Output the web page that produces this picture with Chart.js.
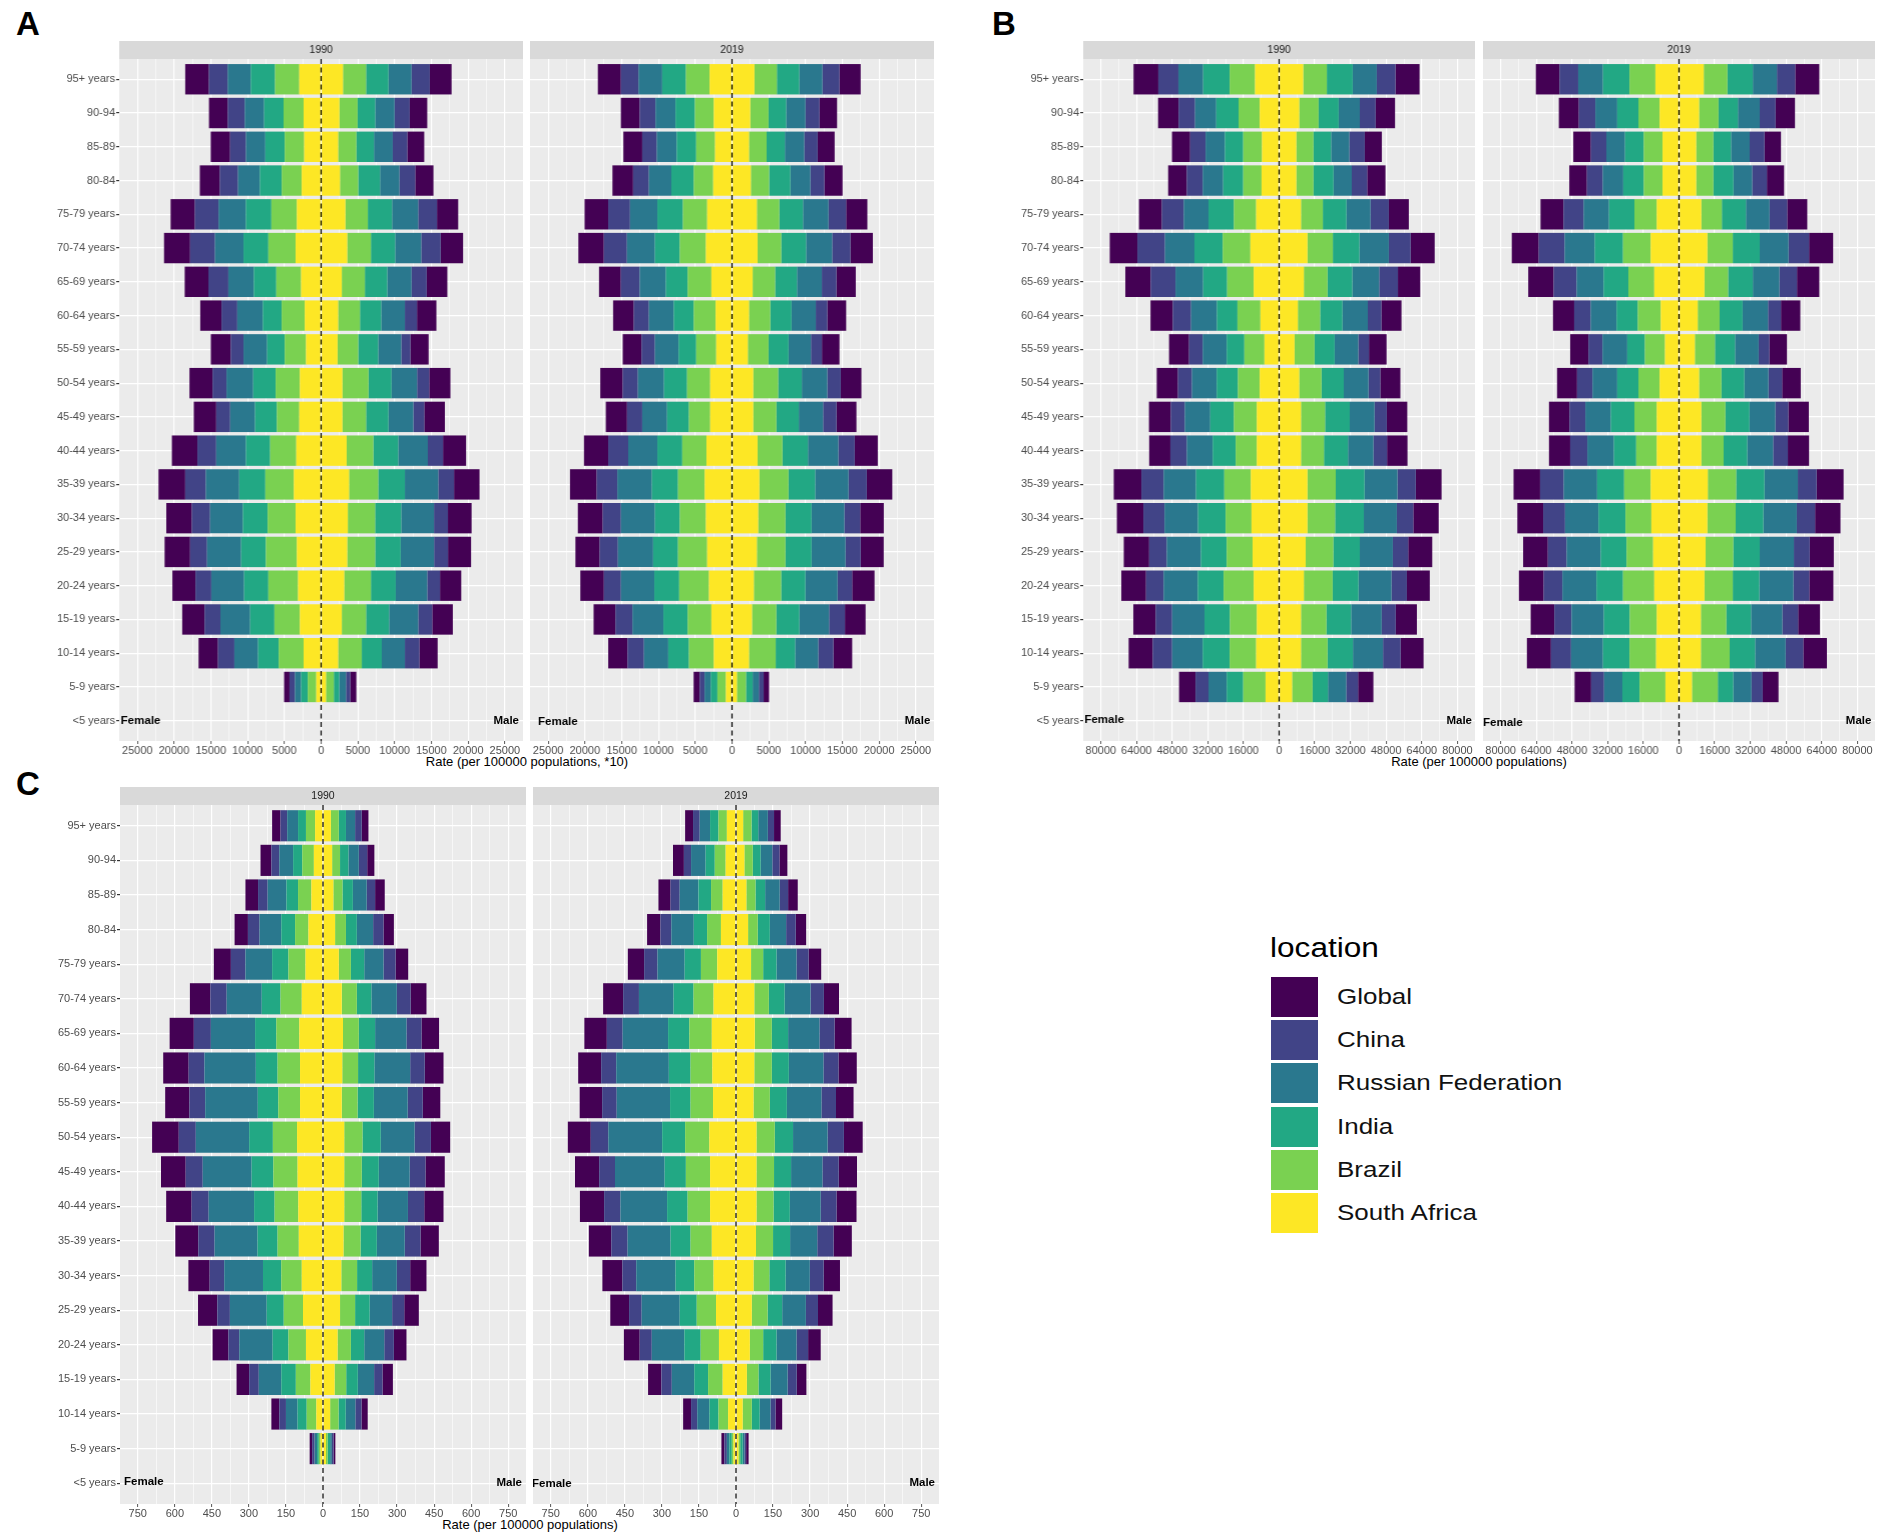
<!DOCTYPE html>
<html>
<head>
<meta charset="utf-8">
<title>Rates by age, sex and location</title>
<script src="https://cdn.jsdelivr.net/npm/chart.js@4"></script>
<style>
    html, body { margin: 0; padding: 0; background: #fff; }
    body { position: relative; width: 1901px; height: 1540px; overflow: hidden; font-family: "Liberation Sans", Arial, sans-serif; }
    canvas { position: absolute; }
    .letter { position: absolute; font-weight: bold; font-size: 33px; line-height: 33px; color: #000; }
    .axis-title { position: absolute; font-size: 13px; line-height: 16px; color: #000; transform: translateX(-50%); white-space: nowrap; }
    .legend-title { position: absolute; left: 1270px; top: 932px; font-size: 27px; line-height: 32px; color: #000; transform: scaleX(1.17); transform-origin: left center; }
    .swatch { position: absolute; left: 1271px; width: 47px; height: 40px; }
    .legend-label { position: absolute; left: 1337px; font-size: 22px; line-height: 26px; color: #111; transform: scaleX(1.18); transform-origin: left center; white-space: nowrap; }
</style>
</head>
<body>
<div class="letter" style="left:16px;top:7px">A</div>
<div class="letter" style="left:992px;top:7px">B</div>
<div class="letter" style="left:16px;top:767px">C</div>
<div class="axis-title" style="left:527px;top:754px">Rate (per 100000 populations, *10)</div>
<div class="axis-title" style="left:1479px;top:754px">Rate (per 100000 populations)</div>
<div class="axis-title" style="left:530px;top:1517px">Rate (per 100000 populations)</div>
<div class="legend-title">location</div>
<div id="legend"></div>

<script>
// =====================================================
// DATA
// =====================================================
const ages = ['95+ years', '90-94', '85-89', '80-84', '75-79 years', '70-74 years', '65-69 years', '60-64 years', '55-59 years', '50-54 years',
    '45-49 years', '40-44 years', '35-39 years', '30-34 years', '25-29 years', '20-24 years', '15-19 years', '10-14 years', '5-9 years', '<5 years'];
const locations = ['Global', 'China', 'Russian Federation', 'India', 'Brazil', 'South Africa'];
const locationColors = ['#440154', '#414487', '#2A788E', '#22A884', '#7AD151', '#FDE725'];

const ticksA = [25000, 20000, 15000, 10000, 5000, 0];
const ticksB = [80000, 64000, 48000, 32000, 16000, 0];
const ticksC = [750, 600, 450, 300, 150, 0];

// each row is one age group, columns follow `locations`
const aFemale1990 = [
    [3220,2560,3140,3300,3300,2970],[2560,2310,2640,2640,2720,2390],[2640,2150,2640,2640,2640,2310],[2720,2480,2970,2970,2720,2640],
    [3300,3220,3710,3470,3470,3300],[3550,3380,3880,3380,3710,3470],[3220,2720,3470,3050,3380,2720],[2890,2150,3470,2560,3140,2230],
    [2720,1730,3220,2390,2890,2060],[3140,1900,3630,3050,3300,2890],[3050,1900,3380,2970,3050,2970],[3470,2560,4040,3300,3550,3380],
    [3630,2810,4540,3550,3880,3710],[3470,2480,4460,3380,3800,3470],[3470,2310,4620,3380,4210,3300],[3140,2150,4460,3300,4040,3140],
    [3050,2150,4040,3300,3470,2890],[2640,2230,3220,2810,3380,2390],[740,740,830,910,1160,660],[0,0,0,0,0,0]
];
const aMale1990 = [
    [2970,2480,3140,3050,3140,2970],[2390,2060,2640,2390,2480,2480],[2310,1980,2560,2390,2480,2310],[2480,2150,2640,2970,2480,2560],
    [2890,2560,3550,3300,3050,3300],[3050,2640,3550,3300,3220,3550],[2810,2060,3300,3050,3140,2810],[2640,1650,3220,2890,2970,2310],
    [2480,1240,3140,2720,2810,2230],[2890,1650,3470,3140,3550,2890],[2810,1490,3380,3050,3220,2890],[3140,2060,4040,3380,3630,3470],
    [3470,2150,4540,3630,3960,3800],[3220,1900,4460,3550,3710,3630],[3140,1900,4540,3470,3800,3550],[2890,1730,4290,3380,3630,3140],
    [2810,1900,3960,3140,3300,2810],[2480,1980,3140,2720,3220,2310],[830,580,910,740,1070,660],[0,0,0,0,0,0]
];
const aFemale2019 = [
    [3140,2390,3220,3220,3220,3050],[2560,2150,2720,2640,2560,2480],[2560,1980,2720,2640,2560,2310],[2810,2150,3050,3050,2640,2560],
    [3220,2970,3710,3470,3300,3380],[3470,3140,3800,3380,3550,3550],[2970,2560,3550,2970,3220,2810],[2810,2060,3380,2720,2970,2230],
    [2560,1820,3220,2390,2720,2150],[3050,2060,3550,3140,3140,2970],[2890,2060,3380,2970,2890,2970],[3300,2720,3960,3380,3300,3470],
    [3630,2810,4700,3550,3630,3710],[3380,2480,4620,3380,3550,3550],[3300,2480,4790,3380,3960,3380],[3220,2310,4540,3380,4040,3140],
    [2970,2310,4210,3300,3220,2810],[2640,2230,3300,2810,3380,2480],[830,660,830,910,1160,830],[0,0,0,0,0,0]
];
const aMale2019 = [
    [2890,2310,3140,3050,3050,3050],[2390,1900,2640,2390,2480,2480],[2310,1820,2640,2480,2390,2310],[2480,1900,2720,2890,2480,2560],
    [2890,2390,3470,3220,3050,3380],[3050,2480,3550,3380,3220,3470],[2640,1980,3380,2970,3050,2810],[2560,1570,3300,2890,2890,2310],
    [2390,1490,3050,2720,2810,2150],[2810,1820,3470,3220,3380,2890],[2720,1820,3300,3050,3140,2890],[3140,2230,4130,3470,3380,3470],
    [3470,2480,4540,3630,3960,3710],[3220,2150,4460,3550,3710,3550],[3140,2060,4620,3550,3880,3380],[3050,1980,4370,3300,3710,2970],
    [2810,2150,4040,3140,3300,2720],[2560,2060,3140,2640,3630,2310],[740,660,830,910,1240,660],[0,0,0,0,0,0]
];

const bFemale1990 = [
    [11100,9000,11100,11900,11400,10800],[9200,7400,9500,10000,9500,8700],[8200,6900,8700,8200,8400,7700],[8400,7100,9200,9000,8200,7900],
    [10300,9800,11100,11400,10000,10300],[12400,12400,13200,12700,12400,12900],[11400,11100,12400,10800,11900,11400],[10000,8200,11600,9200,10300,8400],
    [9000,6100,10800,7900,9000,6600],[9500,6300,11100,9500,9800,8700],[9800,6300,11400,10600,10300,10000],[9500,7400,11600,10300,9500,10000],
    [12400,10000,14500,12700,11900,12700],[11900,9500,15000,12400,11600,12400],[11400,7900,15300,11600,11600,11900],[11100,7900,15300,11600,13500,11400],
    [10000,7400,14500,11400,12100,10000],[10800,8700,13700,12100,11900,10300],[7400,5800,8200,7400,10000,6100],[0,0,0,0,0,0]
];
const bMale1990 = [
    [10800,8400,10800,11600,10600,10800],[8700,7100,9500,9000,8700,9000],[7700,6900,8200,7900,7700,7700],[8200,6900,8200,9000,7700,7700],
    [9000,8200,10800,10600,9800,9800],[10800,9800,13200,11900,11400,12700],[10000,8400,12100,11100,10600,11100],[9000,6100,11400,10000,10000,8400],
    [7900,4800,10600,9000,9000,6900],[9000,5300,11100,10000,10000,9000],[9200,5500,11100,11100,10800,9800],[9200,6100,11400,10800,10300,9800],
    [11600,8200,14800,12900,12700,12700],[11400,7400,14800,12900,12400,12700],[10800,6900,14800,11900,12400,11900],[10300,6900,14800,11600,12900,11100],
    [9500,6300,13700,11100,11400,9800],[10300,7900,13500,11400,11900,9800],[6900,5300,8200,6900,9200,5800],[0,0,0,0,0,0]
];
const bFemale2019 = [
    [10600,8400,11100,11900,11600,10600],[9000,7400,9800,9500,9500,8700],[7900,6900,8400,8400,8400,7400],[7900,7100,9200,9200,8400,7400],
    [10300,9000,11400,11400,10000,10000],[12100,11600,13500,12700,12400,12700],[11400,10300,12100,11100,11600,11100],[9500,7400,11600,9500,10300,8200],
    [8200,6300,11100,7900,9000,6300],[9000,6900,11100,9500,9500,8700],[9200,7100,11400,10600,10000,10000],[9500,7700,11900,10000,9200,10000],
    [11900,10600,15000,12100,11900,12700],[11600,9800,15000,12100,11600,12400],[11100,8400,15300,11600,11900,11600],[11100,8400,15300,11900,14000,11100],
    [10600,7700,14500,11600,12100,10000],[10800,9000,14300,11900,11900,10300],[7400,5800,8200,7700,11600,6100],[0,0,0,0,0,0]
];
const bMale2019 = [
    [10800,8200,10800,11400,10600,11100],[8700,7100,9800,8700,8700,9000],[7400,6600,8400,7900,7700,7700],[7700,6600,8400,9000,7700,7700],
    [9000,7900,10600,10800,9200,10000],[10800,9200,12900,12100,11400,12700],[10000,7900,11900,11100,10600,11400],[8700,5800,11400,10300,9800,8400],
    [7900,4800,10600,9000,9000,7100],[8400,6100,10800,10300,10000,9000],[9200,5800,11600,10800,10800,10000],[9500,6600,11600,10600,10000,10000],
    [12100,8400,15000,12700,12700,12900],[11400,8200,15000,12400,12700,12700],[10800,7100,15300,11900,12400,11900],[10800,7100,15300,11900,12700,11400],
    [9800,7100,14000,11100,11400,9800],[10600,7900,13700,11400,12900,9800],[7100,5000,8200,6900,11600,5800],[0,0,0,0,0,0]
];

const cFemale1990 = [
    [34,27,44,32,37,32],[44,32,56,37,47,37],[51,39,76,47,54,47],[54,47,88,56,54,59],
    [69,59,108,66,69,71],[83,66,142,76,86,86],[98,69,179,86,93,96],[103,64,208,88,91,93],
    [98,64,213,83,88,93],[108,69,216,96,98,105],[100,69,198,88,98,103],[103,69,184,83,96,100],
    [93,66,174,81,86,98],[86,59,157,74,83,86],[78,51,149,69,78,81],[64,44,135,64,71,69],
    [51,39,91,59,59,51],[32,27,47,37,39,27],[10,10,10,7,7,10],[0,0,0,0,0,0]
];
const cMale1990 = [
    [27,27,37,29,32,32],[29,34,42,34,32,37],[39,34,56,42,37,42],[42,42,66,44,44,49],
    [51,49,78,54,49,64],[64,56,103,59,61,76],[71,61,127,66,64,81],[76,59,145,66,64,78],
    [71,61,137,66,64,76],[78,66,137,74,74,86],[78,64,125,69,71,86],[78,66,123,66,69,86],
    [74,64,113,66,69,83],[66,54,100,61,64,74],[59,49,91,59,61,69],[51,39,81,54,54,59],
    [42,34,66,47,47,47],[25,25,39,29,34,29],[7,7,7,10,7,12],[0,0,0,0,0,0]
];
const cFemale2019 = [
    [32,27,42,34,34,37],[44,29,59,37,44,42],[49,37,76,51,47,54],[54,44,91,54,56,61],
    [66,54,110,66,66,76],[81,64,140,81,81,91],[91,64,184,86,91,98],[93,61,213,88,88,96],
    [91,59,216,83,91,93],[93,71,218,93,98,108],[98,64,201,86,98,105],[98,66,189,83,91,105],
    [91,66,174,81,86,98],[81,56,159,76,78,91],[76,51,154,69,78,81],[64,49,132,66,74,69],
    [54,42,91,56,59,54],[32,25,49,37,39,32],[12,10,10,10,7,10],[0,0,0,0,0,0]
];
const cMale2019 = [
    [27,25,39,27,34,29],[32,29,47,32,34,34],[39,34,59,39,37,42],[42,39,66,49,39,49],
    [51,49,81,54,49,61],[61,54,105,64,59,74],[69,61,127,66,69,76],[74,61,140,69,71,74],
    [71,59,140,69,66,71],[76,66,140,74,74,83],[74,66,127,69,71,83],[81,64,125,66,69,83],
    [74,66,110,69,69,81],[66,56,98,66,64,71],[59,49,96,59,64,64],[51,47,81,54,54,56],
    [39,37,69,49,47,44],[27,20,44,32,37,27],[10,7,7,10,7,10],[0,0,0,0,0,0]
];

// =====================================================
// PANELS
// =====================================================
const STRIP_H = 18;
const TICK_H = 20;

// panel background, facet strip, dashed zero line, Female / Male tags
const facetPlugin = {
    id: 'facet',
    beforeDraw(chart, args, o) {
        const { ctx, chartArea: a } = chart;
        ctx.save();
        ctx.fillStyle = '#EBEBEB';
        ctx.fillRect(a.left, a.top, a.right - a.left, a.bottom - a.top);
        ctx.fillStyle = '#D9D9D9';
        ctx.fillRect(a.left, a.top - STRIP_H, a.right - a.left, STRIP_H);
        ctx.fillStyle = '#1A1A1A';
        ctx.font = '10.5px "Liberation Sans"';
        ctx.textAlign = 'center';
        ctx.textBaseline = 'middle';
        ctx.fillText(o.year, (a.left + a.right) / 2, a.top - STRIP_H / 2 + 0.5);
        ctx.restore();
    },
    afterDatasetsDraw(chart, args, o) {
        const { ctx, chartArea: a, scales } = chart;
        const x0 = scales.x.getPixelForValue(0);
        const yTag = scales.y.getPixelForValue(19);
        ctx.save();
        ctx.strokeStyle = '#000';
        ctx.lineWidth = 1.2;
        ctx.setLineDash([5, 3.5]);
        ctx.beginPath();
        ctx.moveTo(x0, a.top);
        ctx.lineTo(x0, a.bottom);
        ctx.stroke();
        ctx.fillStyle = '#000';
        ctx.font = 'bold 11.5px "Liberation Sans"';
        ctx.textBaseline = 'middle';
        ctx.textAlign = 'left';
        ctx.fillText('Female', a.left + o.femaleDx, yTag + o.femaleDy);
        ctx.textAlign = 'right';
        ctx.fillText('Male', a.right + o.maleDx, yTag);
        ctx.restore();
    }
};

function buildDatasets(female, male) {
    const sets = [];
    // South Africa sits next to the axis, Global on the outside
    for (let j = locations.length - 1; j >= 0; j--) {
        [[female, -1, 'Female'], [male, 1, 'Male']].forEach(([table, sign, sex]) => {
            sets.push({
                label: locations[j] + ' ' + sex,
                data: ages.map((a, i) => ({ x: sign * table[i][j], y: i })),
                backgroundColor: locationColors[j],
                borderWidth: 0,
                stack: 'rate',
                categoryPercentage: 1,
                barPercentage: 0.9
            });
        });
    }
    return sets;
}

function makePanel(p) {
    const canvas = document.createElement('canvas');
    const labelW = p.showAges ? 100 : 0;
    const width = p.w + labelW;
    const height = STRIP_H + p.h + TICK_H;
    canvas.width = width;
    canvas.height = height;
    canvas.style.left = (p.left - labelW) + 'px';
    canvas.style.top = p.top + 'px';
    canvas.style.width = width + 'px';
    canvas.style.height = height + 'px';
    document.body.appendChild(canvas);

    const major = p.ticks[p.ticks.length - 2];
    const xTicks = [];
    for (let v = -p.ticks[0]; v <= p.ticks[0]; v += major / 2) xTicks.push({ value: v });

    new Chart(canvas.getContext('2d'), {
        type: 'bar',
        data: { labels: ages, datasets: buildDatasets(p.female, p.male) },
        plugins: [facetPlugin],
        options: {
            indexAxis: 'y',
            responsive: false,
            animation: false,
            events: [],
            layout: { padding: { top: STRIP_H, left: 0, right: 0, bottom: 0 }, autoPadding: false },
            plugins: {
                legend: { display: false },
                tooltip: { enabled: false },
                facet: { year: p.year, femaleDx: p.femaleDx, femaleDy: p.femaleDy, maleDx: p.maleDx }
            },
            scales: {
                x: {
                    type: 'linear',
                    bounds: 'data',
                    stacked: true,
                    min: -p.range,
                    max: p.range,
                    afterBuildTicks: s => { s.ticks = xTicks; },
                    afterFit: s => { s.height = TICK_H; },
                    border: { display: false },
                    grid: {
                        color: '#fff',
                        lineWidth: c => c.tick && Math.abs(c.tick.value) % major === 0 ? 1.2 : 0.6,
                        tickLength: 3,
                        tickColor: c => c.tick && Math.abs(c.tick.value) % major === 0 ? '#555' : 'rgba(0,0,0,0)',
                        tickWidth: 1
                    },
                    ticks: {
                        autoSkip: false,
                        maxRotation: 0,
                        padding: 0,
                        color: '#4D4D4D',
                        font: { family: 'Liberation Sans', size: 11 },
                        callback: v => p.ticks.includes(Math.abs(v)) ? String(Math.abs(v)) : ''
                    }
                },
                y: {
                    type: 'linear',
                    bounds: 'data',
                    reverse: true,
                    offset: false, // bar charts turn this on for the index axis
                    min: -0.6,
                    max: 19.6,
                    afterBuildTicks: s => { s.ticks = ages.map((a, i) => ({ value: i })); },
                    afterFit: s => { s.width = labelW; },
                    border: { display: false },
                    grid: { offset: false, color: '#fff', lineWidth: 1.2, tickLength: 3, tickColor: '#333', drawTicks: p.showAges },
                    ticks: {
                        display: p.showAges,
                        autoSkip: false,
                        padding: 1,
                        color: '#4D4D4D',
                        font: { family: 'Liberation Sans', size: 11 },
                        callback: v => ages[v]
                    }
                }
            }
        }
    });
}

makePanel({ left: 119.4, top: 41, w: 403.5, h: 682, range: 27470, ticks: ticksA, year: '1990', showAges: true, female: aFemale1990, male: aMale1990, femaleDx: 1.6, femaleDy: 0.3, maleDx: -4 });
makePanel({ left: 530.2, top: 41, w: 403.5, h: 682, range: 27470, ticks: ticksA, year: '2019', showAges: false, female: aFemale2019, male: aMale2019, femaleDx: 8, femaleDy: 0.6, maleDx: -3.7 });
makePanel({ left: 1083.4, top: 41, w: 391.6, h: 682, range: 87900, ticks: ticksB, year: '1990', showAges: true, female: bFemale1990, male: bMale1990, femaleDx: 1.2, femaleDy: -0.7, maleDx: -3 });
makePanel({ left: 1482.8, top: 41, w: 391.8, h: 682, range: 87900, ticks: ticksB, year: '2019', showAges: false, female: bFemale2019, male: bMale2019, femaleDx: 0, femaleDy: 2, maleDx: -3.6 });
makePanel({ left: 120, top: 786.5, w: 406, h: 699.5, range: 822, ticks: ticksC, year: '1990', showAges: true, female: cFemale1990, male: cMale1990, femaleDx: 4, femaleDy: -1, maleDx: -4 });
makePanel({ left: 533.2, top: 786.5, w: 406, h: 699.5, range: 822, ticks: ticksC, year: '2019', showAges: false, female: cFemale2019, male: cMale2019, femaleDx: -1, femaleDy: 0.7, maleDx: -4 });

// legend
const legendEl = document.getElementById('legend');
locations.forEach((name, i) => {
    const top = 976.7 + i * 43.3;
    legendEl.innerHTML += `<div class="swatch" style="top:${top}px;background:${locationColors[i]}"></div>`
        + `<div class="legend-label" style="top:${top + 7}px">${name}</div>`;
});
</script>
</body>
</html>
